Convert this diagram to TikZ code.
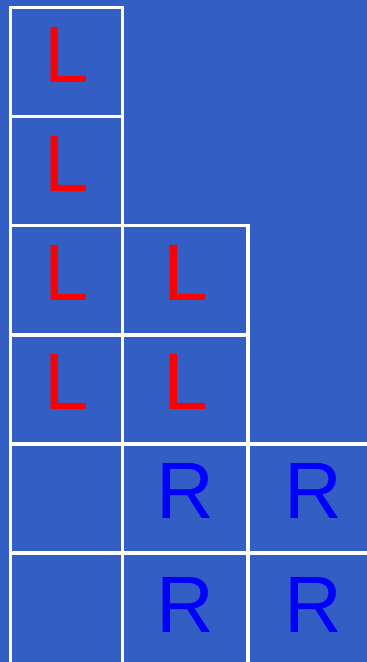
\documentclass[tikz,border=0pt]{standalone}
\usepackage{fontspec}
\setmainfont{Liberation Sans}
\usepackage{xcolor}
\usepackage{tikz}
\usetikzlibrary{positioning}
\definecolor{boardblue}{RGB}{51,94,196}
\definecolor{rblue}{RGB}{0,0,255}
\tikzset{
    tableau/.style={x=1pt, y=-1pt, line width=3.5pt, font=\fontsize{80}{96}\selectfont},
    cell/.style={draw=white, outer sep=0pt, inner sep=0pt, minimum height=109.1pt,
        text height=60pt, text depth=19pt},
    narrow/.style={cell, minimum width=112pt},
    wide/.style={cell, minimum width=125.5pt},
    open/.style={cell, minimum width=130pt},
    % bottom row runs off the page, so no bottom edge shows
    lastrow/.style={minimum height=118pt},
    lcell/.style={text=red},
    rcell/.style={text=rblue},
}
\begin{document}
\begin{tikzpicture}[tableau]
    \fill[boardblue] (0,0) rectangle (367,662);
    \useasboundingbox (0,0) rectangle (367,662);

    % first column
    \node[narrow, lcell, anchor=north west] (c11) at (10.5,7.5) {L};
    \node[narrow, lcell, below=0pt of c11] (c12) {L};
    \node[narrow, lcell, below=0pt of c12] (c13) {L};
    \node[narrow, lcell, below=0pt of c13] (c14) {L};
    \node[narrow, below=0pt of c14] (c15) {};
    \node[narrow, lastrow, below=0pt of c15] (c16) {};

    % second column
    \node[wide, lcell, right=0pt of c13] (c23) {L};
    \node[wide, lcell, below=0pt of c23] (c24) {L};
    \node[wide, rcell, below=0pt of c24] (c25) {R};
    \node[wide, rcell, lastrow, below=0pt of c25] (c26) {R};

    % third column
    \node[open, rcell, right=0pt of c25] (c35) {R};
    \node[open, rcell, lastrow, below=0pt of c35] (c36) {R};
\end{tikzpicture}
\end{document}
